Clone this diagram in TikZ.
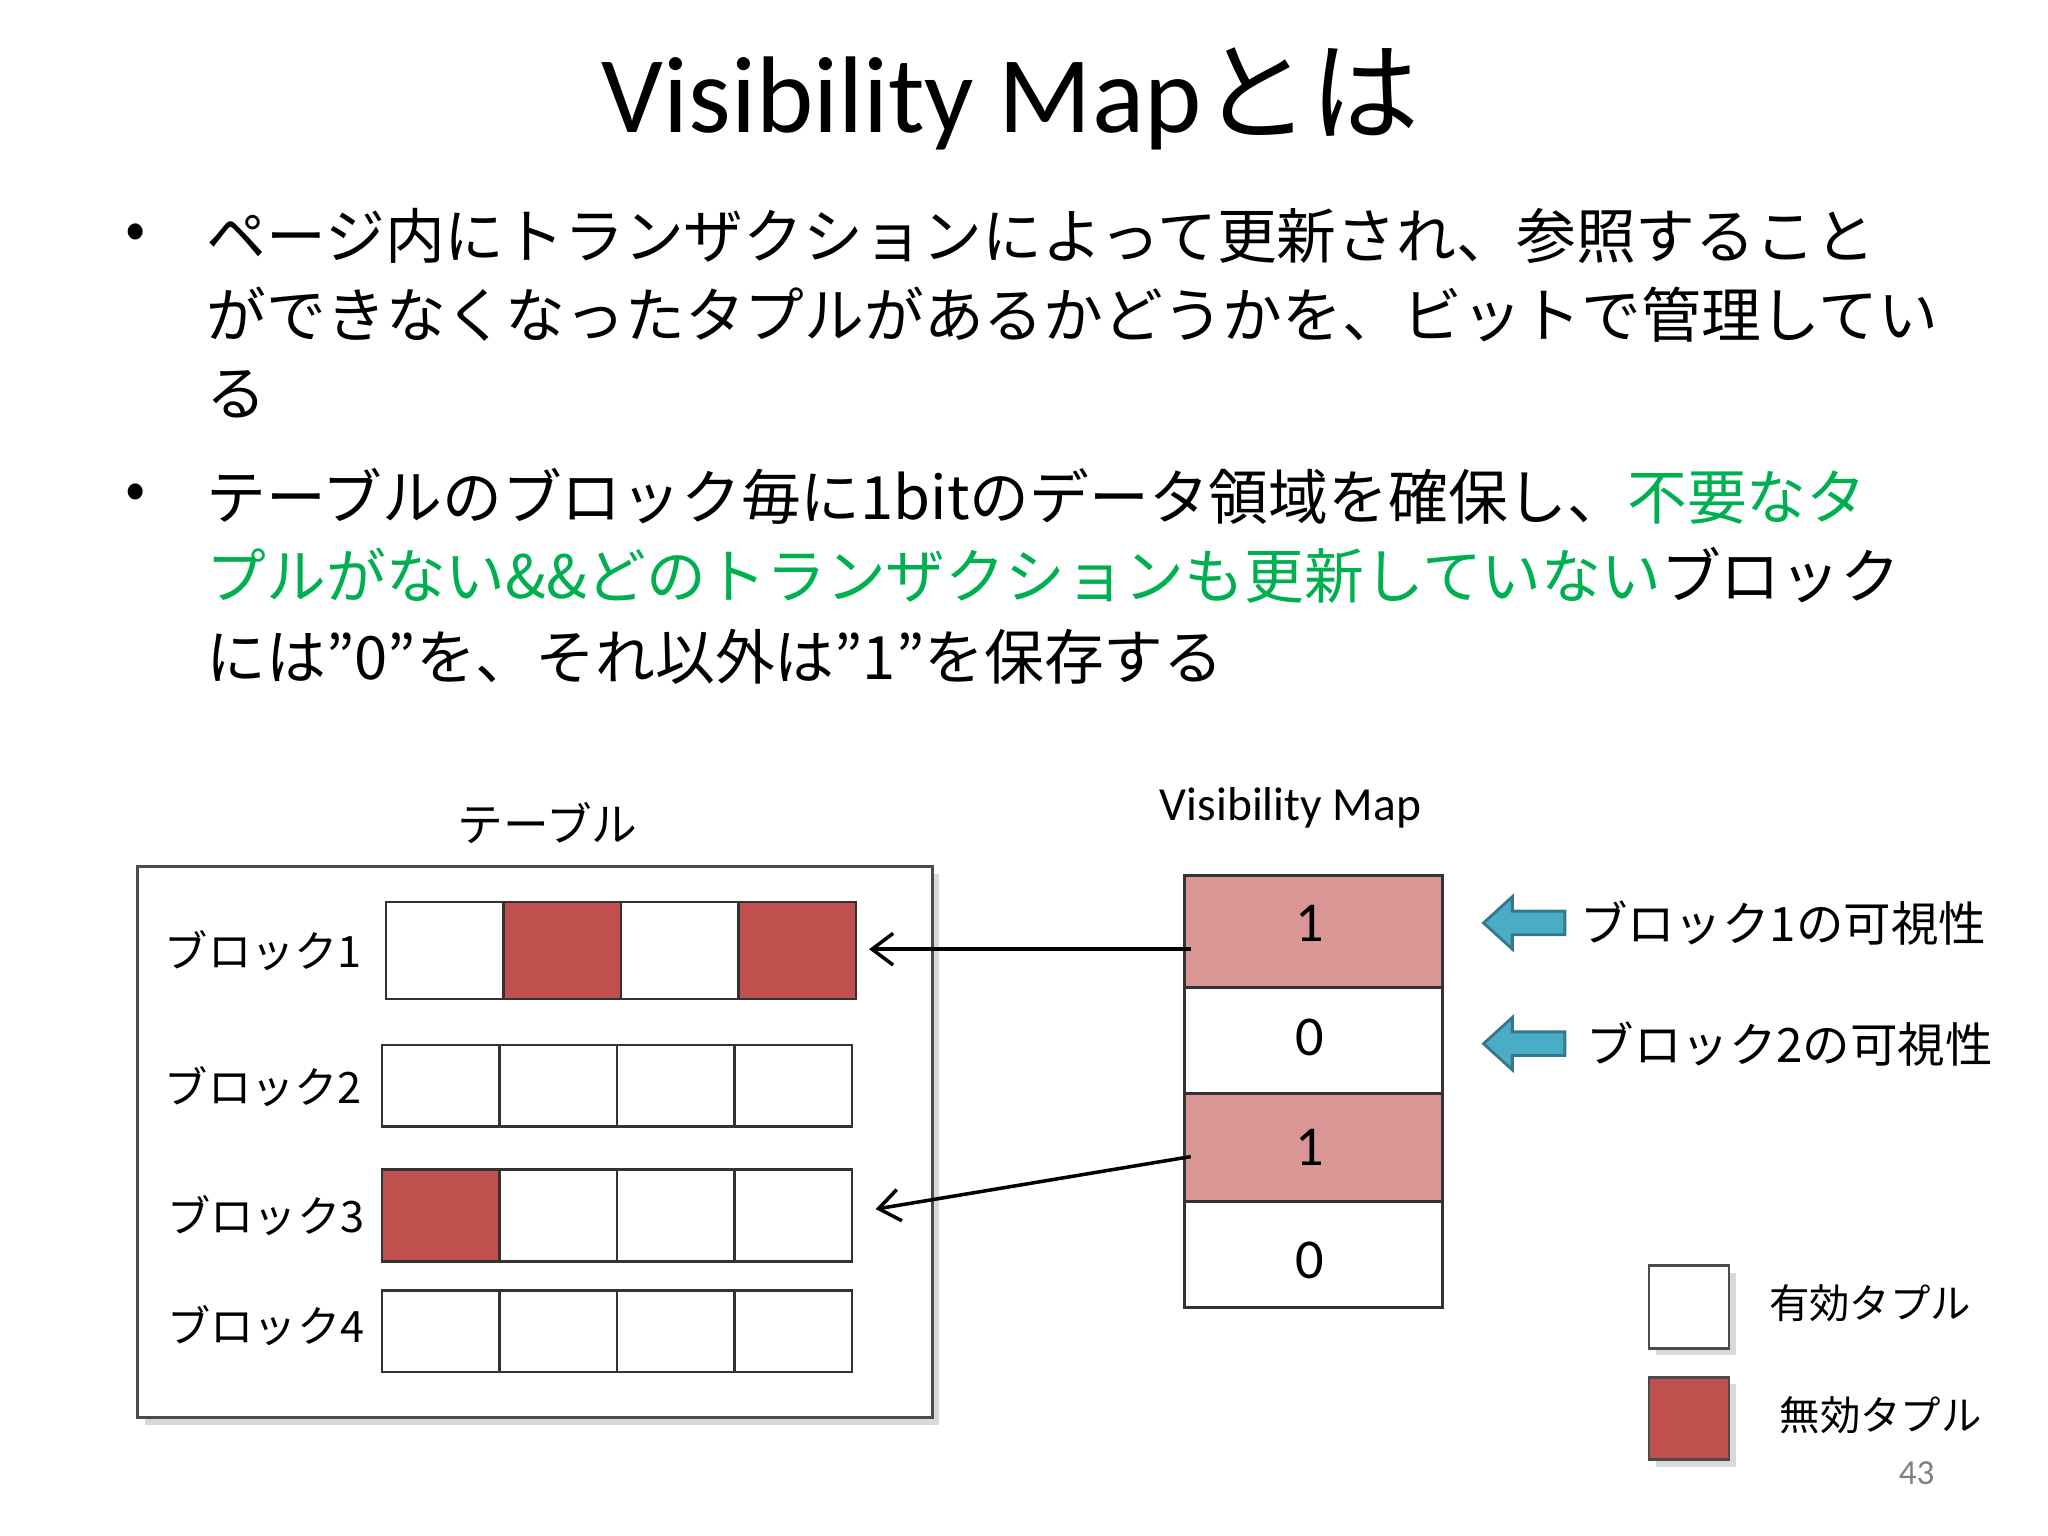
\documentclass[tikz,border=0pt]{standalone}
\usepackage{fontspec}
\setmainfont{Carlito}
\newfontfamily\cjk{Noto Sans CJK JP}
\usetikzlibrary{shadows,arrows.meta}
\definecolor{inv}{HTML}{C0504D}
\definecolor{pinkc}{HTML}{D99694}
\definecolor{blu}{HTML}{4BACC6}
\definecolor{grn}{HTML}{00B050}
\tikzset{
 bl/.style={anchor=west,inner sep=0pt,font=\cjk\fontsize{17pt}{20pt}\selectfont},
 cell/.style={draw=black!80,line width=0.8pt},
 lbl/.style={anchor=west,inner sep=0pt,font=\cjk\fontsize{12.3pt}{14pt}\selectfont},
 vm/.style={draw=black!80,line width=0.8pt},
 arr/.style={-{Straight Barb[length=6pt,width=9pt]},line width=1pt},
}
\begin{document}
\begin{tikzpicture}[x=0.013128cm,y=-0.013128cm]
\useasboundingbox (0,0) rectangle (1560,1170);
\node[inner sep=0pt,font=\fontsize{31pt}{36pt}\selectfont] (title) at (770,75) {Visibility Map{\cjk とは}};
\node[bl] (b1) at (95,180) {•};
\node[bl] (l1) at (157,180) {ページ内にトランザクションによって更新され、参照すること};
\node[bl] (l2) at (157,240) {ができなくなったタプルがあるかどうかを、ビットで管理してい};
\node[bl] (l3) at (157,300) {る};
\node[bl] (b2) at (95,378) {•};
\node[bl] (l4) at (157,378) {テーブルのブロック毎に1bitのデータ領域を確保し、\textcolor{grn}{不要なタ}};
\node[bl] (l5) at (157,438) {\textcolor{grn}{プルがない\&\&どのトランザクションも更新していない}ブロック};
\node[bl] (l6) at (157,500) {には”0”を、それ以外は”1”を保存する};
% table
\draw[line width=0.8pt,black!70,fill=white,drop shadow={shadow xshift=2pt,shadow yshift=-2pt,opacity=0.3}] (105,660) rectangle (710,1080);
\node[inner sep=0pt,font=\cjk\fontsize{13pt}{15pt}\selectfont] (tt) at (417,627) {テーブル};
\node[lbl] (r1) at (125,724) {ブロック1};
\node[lbl] (r2) at (125,828) {ブロック2};
\node[lbl] (r3) at (127,926) {ブロック3};
\node[lbl] (r4) at (127,1010) {ブロック4};
\foreach \i/\c in {0/white,1/inv,2/white,3/inv}
  \draw[cell,fill=\c] (294+\i*89.5,687) rectangle (294+\i*89.5+89.5,761);
\foreach \i in {0,...,3}
  \draw[cell] (291+\i*89.5,796) rectangle (291+\i*89.5+89.5,858);
\foreach \i/\c in {0/inv,1/white,2/white,3/white}
  \draw[cell,fill=\c] (291+\i*89.5,891) rectangle (291+\i*89.5+89.5,961);
\foreach \i in {0,...,3}
  \draw[cell] (291+\i*89.5,983) rectangle (291+\i*89.5+89.5,1045);
\coordinate (t1) at (662,723);
\coordinate (t3) at (667,921);
% VM
\node[inner sep=0pt,font=\fontsize{13.5pt}{16pt}\selectfont] (vmt) at (983,615) {Visibility Map};
\draw[vm,fill=pinkc] (902,667) rectangle (1099,752);
\draw[vm,fill=white] (902,752) rectangle (1099,833);
\draw[vm,fill=pinkc] (902,833) rectangle (1099,915);
\draw[vm,fill=white] (902,915) rectangle (1099,996);
\node[font=\fontsize{16pt}{18pt}\selectfont] (v1) at (998,703) {1};
\node[font=\fontsize{16pt}{18pt}\selectfont] (v2) at (998,790) {0};
\node[font=\fontsize{16pt}{18pt}\selectfont] (v3) at (998,874) {1};
\node[font=\fontsize{16pt}{18pt}\selectfont] (v4) at (998,960) {0};
\coordinate (s1) at (907,723);
\coordinate (s3) at (907,881);
\draw[arr] (s1) -- (t1);
\draw[arr] (s3) -- (t3);
% blue arrows
\foreach \y in {703,795}
  \draw[blu!70!black,fill=blu,line width=0.8pt] (1130,\y) -- (1152,\y-20) -- (1152,\y-9) -- (1192,\y-9) -- (1192,\y+9) -- (1152,\y+9) -- (1152,\y+20) -- cycle;
\node[lbl,font=\cjk\fontsize{13.5pt}{16pt}\selectfont] (k1) at (1203,703) {ブロック1の可視性};
\node[lbl,font=\cjk\fontsize{13.5pt}{16pt}\selectfont] (k2) at (1208,795) {ブロック2の可視性};
% legend
\draw[line width=0.8pt,black!70,fill=white,drop shadow={shadow xshift=2pt,shadow yshift=-2pt,opacity=0.3}] (1256,964) rectangle (1317,1027);
\draw[line width=0.8pt,black!70,fill=inv,drop shadow={shadow xshift=2pt,shadow yshift=-2pt,opacity=0.3}] (1256,1049) rectangle (1317,1112);
\node[lbl,font=\cjk\fontsize{11.5pt}{14pt}\selectfont] (g1) at (1347,993) {有効タプル};
\node[lbl,font=\cjk\fontsize{11.5pt}{14pt}\selectfont] (g2) at (1355,1078) {無効タプル};
\node[inner sep=0pt,text=black!50,font=\fontsize{10pt}{12pt}\selectfont] (pg) at (1460,1122) {43};
\end{tikzpicture}
\end{document}
